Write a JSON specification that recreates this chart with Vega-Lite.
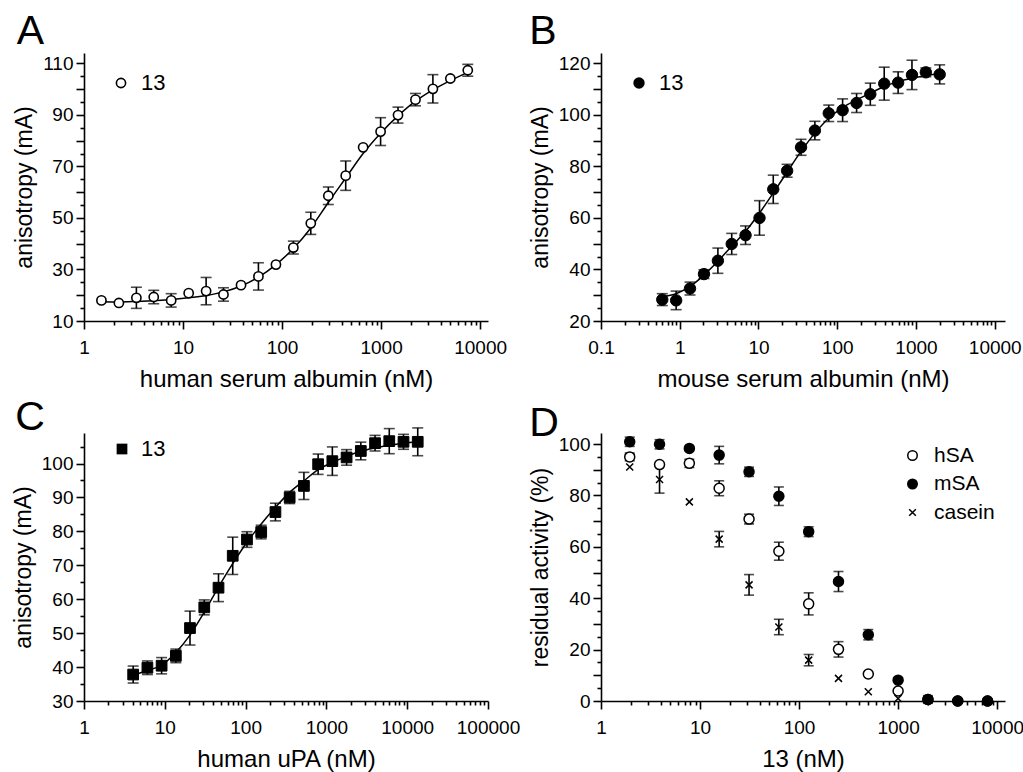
{
  "$schema": "https://vega.github.io/schema/vega-lite/v6.json",
  "background": "white",
  "padding": {"left": 12, "top": 11, "right": 2, "bottom": 2},
  "columns": 2,
  "spacing": {"row": 112, "column": 113},
  "bounds": "flush",
  "resolve": {"scale": {"shape": "independent", "fill": "independent", "stroke": "independent"}, "legend": {"shape": "independent", "fill": "independent", "stroke": "independent"}},
  "datasets": {
    "a_pts": [
      {"x": 1.5, "y": 18.0, "e": 0, "s": "13"},
      {"x": 2.25, "y": 17.0, "e": 0, "s": "13"},
      {"x": 3.38, "y": 19.0, "e": 4.1, "s": "13"},
      {"x": 5.06, "y": 19.3, "e": 2.6, "s": "13"},
      {"x": 7.59, "y": 18.0, "e": 2.6, "s": "13"},
      {"x": 11.4, "y": 20.8, "e": 0, "s": "13"},
      {"x": 17.1, "y": 21.6, "e": 5.3, "s": "13"},
      {"x": 25.6, "y": 20.3, "e": 2.6, "s": "13"},
      {"x": 38.5, "y": 23.9, "e": 0, "s": "13"},
      {"x": 57.7, "y": 27.3, "e": 5.3, "s": "13"},
      {"x": 86.7, "y": 31.9, "e": 0, "s": "13"},
      {"x": 130, "y": 38.5, "e": 2.5, "s": "13"},
      {"x": 195, "y": 47.9, "e": 4.3, "s": "13"},
      {"x": 293, "y": 58.6, "e": 3.4, "s": "13"},
      {"x": 439, "y": 66.4, "e": 5.7, "s": "13"},
      {"x": 658, "y": 77.4, "e": 0, "s": "13"},
      {"x": 988, "y": 83.5, "e": 5.4, "s": "13"},
      {"x": 1481, "y": 89.9, "e": 3.1, "s": "13"},
      {"x": 2222, "y": 95.9, "e": 2.4, "s": "13"},
      {"x": 3333, "y": 100.1, "e": 5.5, "s": "13"},
      {"x": 5000, "y": 104.1, "e": 0, "s": "13"},
      {"x": 7500, "y": 107.3, "e": 2.3, "s": "13"}
    ],
    "a_fit": [
      {"x": 1.5, "y": 17.5}, {"x": 2.25, "y": 17.4}, {"x": 3.38, "y": 17.6}, {"x": 5.06, "y": 17.9},
      {"x": 7.59, "y": 18.3}, {"x": 11.4, "y": 19.0}, {"x": 17.1, "y": 19.9}, {"x": 25.6, "y": 21.3},
      {"x": 38.5, "y": 23.6}, {"x": 57.7, "y": 27.0}, {"x": 86.7, "y": 31.9}, {"x": 130, "y": 38.1},
      {"x": 195, "y": 46.1}, {"x": 293, "y": 56.0}, {"x": 439, "y": 65.5}, {"x": 658, "y": 75.0},
      {"x": 988, "y": 82.9}, {"x": 1481, "y": 89.6}, {"x": 2222, "y": 95.3}, {"x": 3333, "y": 99.7},
      {"x": 5000, "y": 103.3}, {"x": 7500, "y": 106.5}
    ],
    "b_pts": [
      {"x": 0.6, "y": 28.3, "e": 2.3, "s": "13"},
      {"x": 0.9, "y": 28.0, "e": 3.6, "s": "13"},
      {"x": 1.35, "y": 32.6, "e": 2.5, "s": "13"},
      {"x": 2.03, "y": 38.2, "e": 1.7, "s": "13"},
      {"x": 3.05, "y": 43.4, "e": 4.9, "s": "13"},
      {"x": 4.57, "y": 49.9, "e": 4.1, "s": "13"},
      {"x": 6.85, "y": 53.3, "e": 3.6, "s": "13"},
      {"x": 10.3, "y": 60.0, "e": 6.7, "s": "13"},
      {"x": 15.4, "y": 71.1, "e": 5.5, "s": "13"},
      {"x": 23.1, "y": 78.3, "e": 2.5, "s": "13"},
      {"x": 34.7, "y": 87.4, "e": 3.1, "s": "13"},
      {"x": 52, "y": 93.9, "e": 3.6, "s": "13"},
      {"x": 78, "y": 100.6, "e": 3.2, "s": "13"},
      {"x": 117, "y": 101.8, "e": 4.4, "s": "13"},
      {"x": 176, "y": 104.6, "e": 3.7, "s": "13"},
      {"x": 263, "y": 108.0, "e": 4.3, "s": "13"},
      {"x": 395, "y": 112.1, "e": 6.4, "s": "13"},
      {"x": 593, "y": 112.5, "e": 4.2, "s": "13"},
      {"x": 889, "y": 115.5, "e": 5.7, "s": "13"},
      {"x": 1333, "y": 116.5, "e": 1.7, "s": "13"},
      {"x": 2000, "y": 115.7, "e": 3.7, "s": "13"}
    ],
    "b_fit": [
      {"x": 0.6, "y": 29.5}, {"x": 0.9, "y": 30.6}, {"x": 1.35, "y": 33.4}, {"x": 2.03, "y": 37.8},
      {"x": 3.05, "y": 43.2}, {"x": 4.57, "y": 49.0}, {"x": 6.85, "y": 54.8}, {"x": 10.3, "y": 61.9},
      {"x": 15.4, "y": 69.7}, {"x": 23.1, "y": 77.8}, {"x": 34.7, "y": 85.8}, {"x": 52, "y": 92.9},
      {"x": 78, "y": 98.7}, {"x": 117, "y": 102.8}, {"x": 176, "y": 105.8}, {"x": 263, "y": 108.4},
      {"x": 395, "y": 111.0}, {"x": 593, "y": 112.9}, {"x": 889, "y": 114.2}, {"x": 1333, "y": 115.2},
      {"x": 2000, "y": 116.1}
    ],
    "c_pts": [
      {"x": 4.06, "y": 37.8, "e": 2.5, "s": "13"},
      {"x": 6.09, "y": 39.8, "e": 2.0, "s": "13"},
      {"x": 9.13, "y": 40.4, "e": 2.4, "s": "13"},
      {"x": 13.7, "y": 43.3, "e": 2.0, "s": "13"},
      {"x": 20.5, "y": 51.5, "e": 5.0, "s": "13"},
      {"x": 30.8, "y": 57.6, "e": 2.2, "s": "13"},
      {"x": 46.2, "y": 63.4, "e": 4.1, "s": "13"},
      {"x": 69.3, "y": 72.8, "e": 5.5, "s": "13"},
      {"x": 104, "y": 77.6, "e": 2.3, "s": "13"},
      {"x": 156, "y": 79.8, "e": 2.0, "s": "13"},
      {"x": 234, "y": 85.7, "e": 2.6, "s": "13"},
      {"x": 351, "y": 90.0, "e": 1.8, "s": "13"},
      {"x": 527, "y": 93.4, "e": 4.0, "s": "13"},
      {"x": 790, "y": 99.8, "e": 3.0, "s": "13"},
      {"x": 1185, "y": 100.7, "e": 4.2, "s": "13"},
      {"x": 1778, "y": 101.8, "e": 2.3, "s": "13"},
      {"x": 2667, "y": 103.7, "e": 2.6, "s": "13"},
      {"x": 4000, "y": 106.0, "e": 2.3, "s": "13"},
      {"x": 6000, "y": 106.6, "e": 3.7, "s": "13"},
      {"x": 9000, "y": 106.4, "e": 2.2, "s": "13"},
      {"x": 13500, "y": 106.4, "e": 4.1, "s": "13"}
    ],
    "c_fit": [
      {"x": 4.06, "y": 37.6}, {"x": 6.09, "y": 39.0}, {"x": 9.13, "y": 40.6}, {"x": 13.7, "y": 44.3},
      {"x": 20.5, "y": 49.4}, {"x": 30.8, "y": 56.2}, {"x": 46.2, "y": 63.6}, {"x": 69.3, "y": 70.5},
      {"x": 104, "y": 76.8}, {"x": 156, "y": 82.2}, {"x": 234, "y": 87.1}, {"x": 351, "y": 91.5},
      {"x": 527, "y": 94.9}, {"x": 790, "y": 98.2}, {"x": 1185, "y": 100.3}, {"x": 1778, "y": 102.1},
      {"x": 2667, "y": 103.6}, {"x": 4000, "y": 104.6}, {"x": 6000, "y": 105.4}, {"x": 9000, "y": 106.0},
      {"x": 13500, "y": 106.4}
    ],
    "d_pts": [
      {"x": 1.95, "y": 95.0, "e": 1.5, "s": "hSA"},
      {"x": 3.9, "y": 92.0, "e": 0, "s": "hSA"},
      {"x": 7.8, "y": 92.5, "e": 1.6, "s": "hSA"},
      {"x": 15.6, "y": 82.8, "e": 2.9, "s": "hSA"},
      {"x": 31.25, "y": 70.8, "e": 1.9, "s": "hSA"},
      {"x": 62.5, "y": 58.3, "e": 3.5, "s": "hSA"},
      {"x": 125, "y": 37.8, "e": 4.3, "s": "hSA"},
      {"x": 250, "y": 20.1, "e": 3.0, "s": "hSA"},
      {"x": 500, "y": 10.5, "e": 0, "s": "hSA"},
      {"x": 1000, "y": 3.9, "e": 0, "s": "hSA"},
      {"x": 2000, "y": 0.6, "e": 1.0, "s": "hSA"},
      {"x": 4000, "y": 0, "e": 0, "s": "hSA"},
      {"x": 8000, "y": 0, "e": 0, "s": "hSA"},
      {"x": 1.95, "y": 100.9, "e": 1.8, "s": "mSA"},
      {"x": 3.9, "y": 99.9, "e": 1.8, "s": "mSA"},
      {"x": 7.8, "y": 98.3, "e": 0, "s": "mSA"},
      {"x": 15.6, "y": 95.7, "e": 3.4, "s": "mSA"},
      {"x": 31.25, "y": 89.2, "e": 1.8, "s": "mSA"},
      {"x": 62.5, "y": 79.7, "e": 3.6, "s": "mSA"},
      {"x": 125, "y": 65.9, "e": 1.9, "s": "mSA"},
      {"x": 250, "y": 46.5, "e": 3.9, "s": "mSA"},
      {"x": 500, "y": 25.8, "e": 2.0, "s": "mSA"},
      {"x": 1000, "y": 8.1, "e": 0, "s": "mSA"},
      {"x": 2000, "y": 0.6, "e": 1.5, "s": "mSA"},
      {"x": 4000, "y": 0, "e": 0, "s": "mSA"},
      {"x": 8000, "y": 0, "e": 0, "s": "mSA"},
      {"x": 1.95, "y": 91.1, "e": 0, "s": "casein"},
      {"x": 3.9, "y": 86.2, "e": 5.3, "s": "casein"},
      {"x": 7.8, "y": 77.5, "e": 0, "s": "casein"},
      {"x": 15.6, "y": 63.0, "e": 3.0, "s": "casein"},
      {"x": 31.25, "y": 45.2, "e": 4.0, "s": "casein"},
      {"x": 62.5, "y": 28.8, "e": 3.0, "s": "casein"},
      {"x": 125, "y": 15.9, "e": 2.2, "s": "casein"},
      {"x": 250, "y": 8.8, "e": 0, "s": "casein"},
      {"x": 500, "y": 3.6, "e": 0, "s": "casein"},
      {"x": 1000, "y": 1.0, "e": 0, "s": "casein"}
    ]
  },
  "concat": [
    {
      "title": {"text": "A", "offset": 0, "dx": 3},
      "width": 404, "height": 268,
      "encoding": {
        "x": {"field": "x", "type": "quantitative", "title": "human serum albumin (nM)",
          "scale": {"type": "log", "domain": [1, 12000], "nice": false},
          "axis": {"values": [1,2,3,4,5,6,7,8,9,10,20,30,40,50,60,70,80,90,100,200,300,400,500,600,700,800,900,1000,2000,3000,4000,5000,6000,7000,8000,9000,10000],
            "tickSize": {"condition": {"test": "abs(log(datum.value)/LN10 - round(log(datum.value)/LN10)) < 0.001", "value": 8}, "value": 4},
            "labelExpr": "abs(log(datum.value)/LN10 - round(log(datum.value)/LN10)) < 0.001 ? format(datum.value, '~g') : ''"}},
        "y": {"field": "y", "type": "quantitative", "title": "anisotropy (mA)",
          "scale": {"domain": [10, 114], "nice": false, "zero": false},
          "axis": {"values": [10,15,20,25,30,35,40,45,50,55,60,65,70,75,80,85,90,95,100,105,110],
            "tickSize": {"condition": {"test": "datum.value % 10 === 0", "value": 8}, "value": 4},
            "labelExpr": "datum.value % 20 === 10 ? datum.label : ''"}}
      },
      "layer": [
        {"data": {"name": "a_fit"}, "mark": {"type": "line", "color": "black", "strokeWidth": 1.5, "interpolate": "monotone"}},
        {"data": {"name": "a_pts"}, "transform": [{"filter": "datum.e > 0"}],
          "mark": {"type": "errorbar", "color": "black", "thickness": 1.6, "ticks": {"size": 11, "thickness": 1.6, "color": "black"}},
          "encoding": {"yError": {"field": "e"}}},
        {"data": {"name": "a_pts"},
          "mark": {"type": "point", "filled": true, "strokeWidth": 1.6, "opacity": 1, "size": 85},
          "encoding": {
            "shape": {"field": "s", "type": "nominal", "scale": {"range": ["circle"]},
              "legend": {"title": null, "orient": "none", "legendX": 26, "legendY": 19, "padding": 0, "labelFontSize": 22, "labelOffset": 9, "symbolSize": 85, "symbolStrokeWidth": 1.6}},
            "fill": {"field": "s", "type": "nominal", "scale": {"range": ["white"]},
              "legend": {"title": null, "orient": "none", "legendX": 26, "legendY": 19, "padding": 0, "labelFontSize": 22, "labelOffset": 9, "symbolSize": 85, "symbolStrokeWidth": 1.6}},
            "stroke": {"field": "s", "type": "nominal", "scale": {"range": ["black"]},
              "legend": {"title": null, "orient": "none", "legendX": 26, "legendY": 19, "padding": 0, "labelFontSize": 22, "labelOffset": 9, "symbolSize": 85, "symbolStrokeWidth": 1.6}}
          }}
      ]
    },
    {
      "title": {"text": "B", "offset": 0},
      "width": 404, "height": 268,
      "encoding": {
        "x": {"field": "x", "type": "quantitative", "title": "mouse serum albumin (nM)",
          "scale": {"type": "log", "domain": [0.1, 13500], "nice": false},
          "axis": {"values": [0.1,0.2,0.3,0.4,0.5,0.6,0.7,0.8,0.9,1,2,3,4,5,6,7,8,9,10,20,30,40,50,60,70,80,90,100,200,300,400,500,600,700,800,900,1000,2000,3000,4000,5000,6000,7000,8000,9000,10000],
            "tickSize": {"condition": {"test": "abs(log(datum.value)/LN10 - round(log(datum.value)/LN10)) < 0.001", "value": 8}, "value": 4},
            "labelExpr": "abs(log(datum.value)/LN10 - round(log(datum.value)/LN10)) < 0.001 ? format(datum.value, '~g') : ''"}},
        "y": {"field": "y", "type": "quantitative", "title": "anisotropy (mA)",
          "scale": {"domain": [20, 124], "nice": false, "zero": false},
          "axis": {"values": [20,25,30,35,40,45,50,55,60,65,70,75,80,85,90,95,100,105,110,115,120],
            "tickSize": {"condition": {"test": "datum.value % 10 === 0", "value": 8}, "value": 4},
            "labelExpr": "datum.value % 20 === 0 ? datum.label : ''"}}
      },
      "layer": [
        {"data": {"name": "b_fit"}, "mark": {"type": "line", "color": "black", "strokeWidth": 1.5, "interpolate": "monotone"}},
        {"data": {"name": "b_pts"}, "transform": [{"filter": "datum.e > 0"}],
          "mark": {"type": "errorbar", "color": "black", "thickness": 1.6, "ticks": {"size": 11, "thickness": 1.6, "color": "black"}},
          "encoding": {"yError": {"field": "e"}}},
        {"data": {"name": "b_pts"},
          "mark": {"type": "point", "filled": true, "fill": "black", "stroke": "black", "strokeWidth": 1, "opacity": 1, "size": 130},
          "encoding": {"shape": {"field": "s", "type": "nominal", "scale": {"range": ["circle"]},
            "legend": {"title": null, "orient": "none", "legendX": 27, "legendY": 19, "padding": 0, "labelFontSize": 22, "labelOffset": 9, "symbolSize": 130, "symbolStrokeWidth": 1, "symbolStrokeColor": "black", "symbolFillColor": "black"}}}}
      ]
    },
    {
      "title": {"text": "C", "offset": -12, "dx": 3},
      "width": 404, "height": 268,
      "encoding": {
        "x": {"field": "x", "type": "quantitative", "title": "human uPA (nM)",
          "scale": {"type": "log", "domain": [1, 100000], "nice": false},
          "axis": {"values": [1,2,3,4,5,6,7,8,9,10,20,30,40,50,60,70,80,90,100,200,300,400,500,600,700,800,900,1000,2000,3000,4000,5000,6000,7000,8000,9000,10000,20000,30000,40000,50000,60000,70000,80000,90000,100000],
            "tickSize": {"condition": {"test": "abs(log(datum.value)/LN10 - round(log(datum.value)/LN10)) < 0.001", "value": 8}, "value": 4},
            "labelExpr": "abs(log(datum.value)/LN10 - round(log(datum.value)/LN10)) < 0.001 ? format(datum.value, '~g') : ''"}},
        "y": {"field": "y", "type": "quantitative", "title": "anisotropy (mA)",
          "scale": {"domain": [30, 109], "nice": false, "zero": false},
          "axis": {"values": [30,35,40,45,50,55,60,65,70,75,80,85,90,95,100,105],
            "tickSize": {"condition": {"test": "datum.value % 10 === 0", "value": 8}, "value": 4},
            "labelExpr": "datum.value % 10 === 0 ? datum.label : ''"}}
      },
      "layer": [
        {"data": {"name": "c_fit"}, "mark": {"type": "line", "color": "black", "strokeWidth": 1.5, "interpolate": "monotone"}},
        {"data": {"name": "c_pts"}, "transform": [{"filter": "datum.e > 0"}],
          "mark": {"type": "errorbar", "color": "black", "thickness": 1.6, "ticks": {"size": 11, "thickness": 1.6, "color": "black"}},
          "encoding": {"yError": {"field": "e"}}},
        {"data": {"name": "c_pts"},
          "mark": {"type": "point", "filled": true, "fill": "black", "stroke": "black", "strokeWidth": 1, "opacity": 1, "size": 115},
          "encoding": {"shape": {"field": "s", "type": "nominal", "scale": {"range": ["square"]},
            "legend": {"title": null, "orient": "none", "legendX": 27, "legendY": 5, "padding": 0, "labelFontSize": 22, "labelOffset": 8, "symbolSize": 115, "symbolStrokeWidth": 1, "symbolStrokeColor": "black", "symbolFillColor": "black"}}}}
      ]
    },
    {
      "title": {"text": "D", "offset": -12},
      "width": 404, "height": 268,
      "encoding": {
        "x": {"field": "x", "type": "quantitative", "title": "13 (nM)",
          "scale": {"type": "log", "domain": [1, 12000], "nice": false},
          "axis": {"values": [1,2,3,4,5,6,7,8,9,10,20,30,40,50,60,70,80,90,100,200,300,400,500,600,700,800,900,1000,2000,3000,4000,5000,6000,7000,8000,9000,10000],
            "tickSize": {"condition": {"test": "abs(log(datum.value)/LN10 - round(log(datum.value)/LN10)) < 0.001", "value": 8}, "value": 4},
            "labelExpr": "abs(log(datum.value)/LN10 - round(log(datum.value)/LN10)) < 0.001 ? format(datum.value, '~g') : ''"}},
        "y": {"field": "y", "type": "quantitative", "title": "residual activity (%)",
          "scale": {"domain": [0, 104.3], "nice": false},
          "axis": {"values": [0,5,10,15,20,25,30,35,40,45,50,55,60,65,70,75,80,85,90,95,100],
            "tickSize": {"condition": {"test": "datum.value % 10 === 0", "value": 8}, "value": 4},
            "labelExpr": "datum.value % 20 === 0 ? datum.label : ''"}}
      },
      "layer": [
        {"data": {"name": "d_pts"}, "transform": [{"filter": "datum.e > 0"}],
          "mark": {"type": "errorbar", "color": "black", "thickness": 1.6, "ticks": {"size": 10, "thickness": 1.6, "color": "black"}},
          "encoding": {"yError": {"field": "e"}, "detail": {"field": "s", "type": "nominal"}}},
        {"data": {"name": "d_pts"},
          "mark": {"type": "point", "filled": true, "strokeWidth": 1.5, "opacity": 1, "size": 100},
          "encoding": {
            "shape": {"field": "s", "type": "nominal", "scale": {"domain": ["hSA", "mSA", "casein"], "range": ["circle", "circle", "M-0.7,-0.7L0.7,0.7M-0.7,0.7L0.7,-0.7"]},
              "legend": {"title": null, "orient": "none", "legendX": 301, "legendY": 12, "padding": 0, "labelFontSize": 21, "labelOffset": 11, "rowPadding": 6.5, "symbolSize": 90, "symbolStrokeWidth": 1.5}},
            "fill": {"field": "s", "type": "nominal", "scale": {"domain": ["hSA", "mSA", "casein"], "range": ["white", "black", "transparent"]},
              "legend": {"title": null, "orient": "none", "legendX": 301, "legendY": 12, "padding": 0, "labelFontSize": 21, "labelOffset": 11, "rowPadding": 6.5, "symbolSize": 90, "symbolStrokeWidth": 1.5}},
            "stroke": {"field": "s", "type": "nominal", "scale": {"domain": ["hSA", "mSA", "casein"], "range": ["black", "black", "black"]},
              "legend": {"title": null, "orient": "none", "legendX": 301, "legendY": 12, "padding": 0, "labelFontSize": 21, "labelOffset": 11, "rowPadding": 6.5, "symbolSize": 90, "symbolStrokeWidth": 1.5}}
          }}
      ]
    }
  ],
  "config": {
    "view": {"stroke": null},
    "font": "Liberation Sans",
    "title": {"anchor": "start", "frame": "bounds", "fontSize": 41, "fontWeight": "normal", "font": "Liberation Sans", "color": "black"},
    "legend": {"labelFont": "Liberation Sans", "labelColor": "black"},
    "axis": {"domainColor": "black", "domainWidth": 1.6, "tickColor": "black", "tickWidth": 1.6, "labelFont": "Liberation Sans", "labelFontSize": 19, "labelColor": "black", "titleFont": "Liberation Sans", "titleFontSize": 23, "titleFontWeight": "normal", "titleColor": "black", "grid": false, "labelPadding": 3, "titlePadding": 6, "labelOverlap": false, "labelBound": false, "labelFlush": false},
    "axisX": {"titleFontSize": 24, "labelPadding": 9, "titlePadding": 10}
  }
}
